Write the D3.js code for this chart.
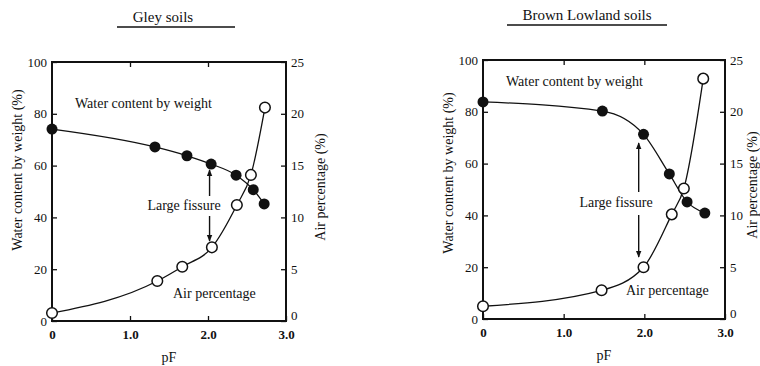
<!DOCTYPE html>
<html>
<head>
<meta charset="utf-8">
<script src="https://cdn.jsdelivr.net/npm/d3@7"></script>
<style>
  body { margin: 0; background: #fff; }
  svg text { font-family: "Liberation Serif", "DejaVu Serif", serif; fill: #111; }
</style>
</head>
<body>
<div id="chart"></div>
<script>
// values: pF vs water content (%) / air percentage (%)
const gleyWaterPF = [0, 1.32, 1.73, 2.04, 2.36, 2.58, 2.72]
const gleyWater = [74.1, 67.2, 63.8, 60.6, 56.3, 50.7, 45.2]
const gleyAirPF = [0, 1.35, 1.67, 2.05, 2.37, 2.55, 2.73]
const gleyAir = [0.77, 3.86, 5.24, 7.11, 11.2, 14.1, 20.6]

const brownWaterPF = [0, 1.48, 1.99, 2.31, 2.53, 2.75]
const brownWater = [83.8, 80.3, 71.3, 56.0, 45.2, 40.9]
const brownAirPF = [0, 1.47, 1.99, 2.34, 2.49, 2.73]
const brownAir = [1.23, 2.77, 5.0, 10.1, 12.6, 23.2]

const pfTicks = [0, 1, 2, 3]
const waterTicks = [0, 20, 40, 60, 80, 100]
const airTicks = [0, 5, 10, 15, 20, 25]

const W = 760, H = 366

const svg = d3.select("#chart").append("svg")
    .attr("width", W)
    .attr("height", H)

svg.append("defs").append("marker")
    .attr("id", "head")
    .attr("viewBox", "0 0 10 10")
    .attr("refX", 9).attr("refY", 5)
    .attr("markerWidth", 7).attr("markerHeight", 9)
    .attr("markerUnits", "userSpaceOnUse")
    .attr("orient", "auto")
  .append("path")
    .attr("d", "M0,1 L10,5 L0,9 Z")
    .attr("fill", "#111")

const zip = (a, b) => a.map((v, i) => [v, b[i]])

function drawPanel(p) {
    const x = d3.scaleLinear().domain([0, 3]).range([p.left, p.right])
    const y = d3.scaleLinear().domain([0, 100]).range([p.bottom, p.top])
    const y2 = d3.scaleLinear().domain([0, 25]).range([p.bottom, p.top])

    const g = svg.append("g")

    // title + underline
    g.append("text")
        .attr("x", p.titleX).attr("y", p.titleY)
        .attr("text-anchor", "middle")
        .attr("font-size", 15)
        .text(p.title)
    g.append("line")
        .attr("x1", p.ulX1).attr("x2", p.ulX2)
        .attr("y1", p.titleY + 5).attr("y2", p.titleY + 5)
        .attr("stroke", "#111").attr("stroke-width", 1.4)

    // axes, ticks inward
    const yAxis = g.append("g")
        .attr("transform", `translate(${p.left},0)`)
        .call(d3.axisLeft(y).tickValues(waterTicks).tickSize(-5).tickPadding(5))
    const y2Axis = g.append("g")
        .attr("transform", `translate(${p.right},0)`)
        .call(d3.axisRight(y2).tickValues(airTicks).tickSize(-5).tickPadding(5))
    const xAxis = g.append("g")
        .attr("transform", `translate(0,${p.bottom})`)
        .call(d3.axisBottom(x).tickValues(pfTicks).tickSize(-5).tickPadding(9)
            .tickFormat(d => d === 0 ? "0" : d3.format(".1f")(d)))
    const xTop = g.append("g")
        .attr("transform", `translate(0,${p.top})`)
        .call(d3.axisTop(x).tickValues([1, 2]).tickSize(-5).tickFormat(""))

    ;[yAxis, y2Axis, xAxis, xTop].forEach(a => {
        a.select(".domain").remove()
        a.selectAll(".tick line").attr("stroke", "#111").attr("stroke-width", 1.3)
        a.selectAll(".tick text")
            .attr("font-size", 13)
            .attr("fill", "#111")
    })
    xAxis.selectAll(".tick text").attr("font-weight", "bold")
    // the right axis "0" sits a little above the corner, as in the figure
    y2Axis.selectAll(".tick text").filter(d => d === 0).attr("dy", "-0.1em")

    g.append("rect")
        .attr("x", p.left).attr("y", p.top)
        .attr("width", p.right - p.left).attr("height", p.bottom - p.top)
        .attr("fill", "none").attr("stroke", "#111").attr("stroke-width", 2)

    // axis titles
    g.append("text")
        .attr("transform", `translate(${p.yLabelX},${p.yLabelY}) rotate(-90)`)
        .attr("text-anchor", "middle")
        .attr("font-size", 14)
        .text("Water content by weight (%)")
    g.append("text")
        .attr("transform", `translate(${p.y2LabelX},${p.y2LabelY}) rotate(-90)`)
        .attr("text-anchor", "middle")
        .attr("font-size", 14)
        .text("Air percentage (%)")
    g.append("text")
        .attr("x", x(1.5)).attr("y", p.pfY)
        .attr("text-anchor", "middle")
        .attr("font-size", 14)
        .text("pF")

    // curves
    const waterLine = d3.line().x(d => x(d[0])).y(d => y(d[1])).curve(d3.curveMonotoneX)
    const airLine = d3.line().x(d => x(d[0])).y(d => y2(d[1])).curve(d3.curveMonotoneX)
    const water = zip(p.waterPF, p.water)
    const air = zip(p.airPF, p.air)

    g.append("path").attr("d", waterLine(water))
        .attr("fill", "none").attr("stroke", "#111").attr("stroke-width", 1.3)
    g.append("path").attr("d", airLine(air))
        .attr("fill", "none").attr("stroke", "#111").attr("stroke-width", 1.3)

    g.selectAll(".air").data(air).enter().append("circle")
        .attr("cx", d => x(d[0])).attr("cy", d => y2(d[1])).attr("r", 5.3)
        .attr("fill", "#fff").attr("stroke", "#111").attr("stroke-width", 1.5)
    g.selectAll(".water").data(water).enter().append("circle")
        .attr("cx", d => x(d[0])).attr("cy", d => y(d[1])).attr("r", 5.5)
        .attr("fill", "#111")

    // annotations
    g.append("text")
        .attr("x", p.wcX).attr("y", p.wcY)
        .attr("font-size", 14)
        .text("Water content by weight")
    g.append("text")
        .attr("x", p.apX).attr("y", p.apY)
        .attr("font-size", 14)
        .text("Air percentage")
    g.append("text")
        .attr("x", p.lfX).attr("y", p.lfY)
        .attr("text-anchor", "middle")
        .attr("font-size", 14)
        .text("Large fissure")

    const ax = x(p.fissurePF)
    g.append("line")
        .attr("x1", ax).attr("x2", ax)
        .attr("y1", p.upFrom).attr("y2", p.upTo)
        .attr("stroke", "#111").attr("stroke-width", 1.4)
        .attr("marker-end", "url(#head)")
    g.append("line")
        .attr("x1", ax).attr("x2", ax)
        .attr("y1", p.downFrom).attr("y2", p.downTo)
        .attr("stroke", "#111").attr("stroke-width", 1.4)
        .attr("marker-end", "url(#head)")
}

drawPanel({
    title: "Gley soils", titleX: 163, titleY: 22, ulX1: 117, ulX2: 235,
    left: 52, right: 286, top: 62, bottom: 321,
    yLabelX: 22, yLabelY: 170, y2LabelX: 325, y2LabelY: 187, pfY: 362,
    waterPF: gleyWaterPF, water: gleyWater, airPF: gleyAirPF, air: gleyAir,
    wcX: 75, wcY: 108, apX: 173, apY: 298, lfX: 184, lfY: 210,
    fissurePF: 2.02, upFrom: 196, upTo: 170, downFrom: 216, downTo: 241
})

drawPanel({
    title: "Brown Lowland soils", titleX: 587, titleY: 20, ulX1: 507, ulX2: 667,
    left: 483, right: 725, top: 60, bottom: 319,
    yLabelX: 453, yLabelY: 173, y2LabelX: 757, y2LabelY: 185, pfY: 360,
    waterPF: brownWaterPF, water: brownWater, airPF: brownAirPF, air: brownAir,
    wcX: 506, wcY: 86, apX: 626, apY: 295, lfX: 616, lfY: 207,
    fissurePF: 1.93, upFrom: 192, upTo: 143, downFrom: 215, downTo: 257
})
</script>
</body>
</html>
